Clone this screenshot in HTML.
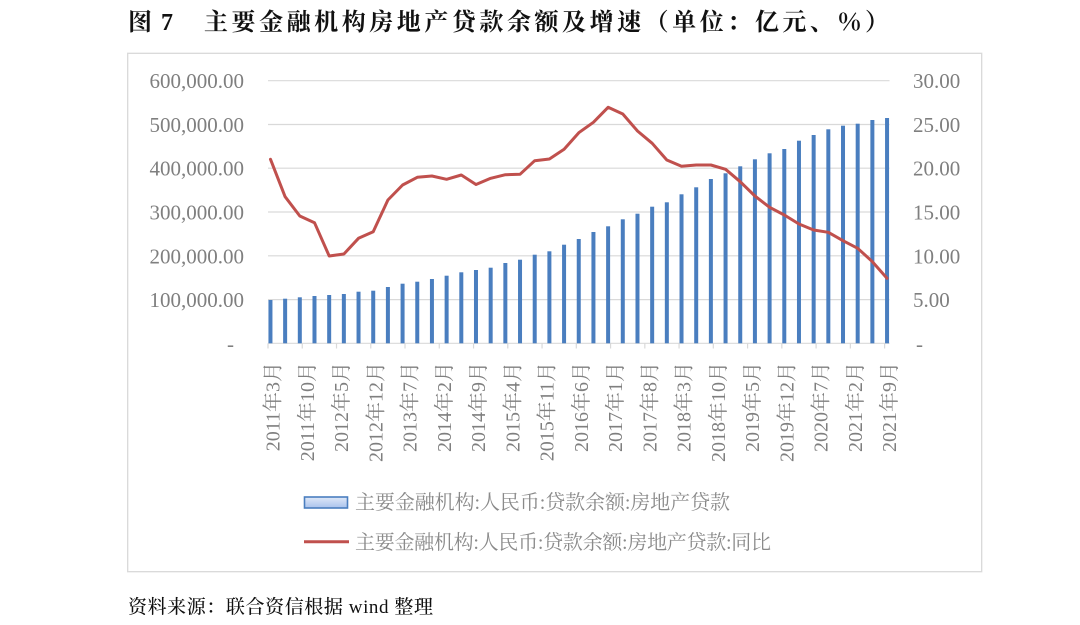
<!DOCTYPE html>
<html><head><meta charset="utf-8"><style>
html,body{margin:0;padding:0;background:#fff;}
svg{display:block;}
</style></head><body>
<svg width="1080" height="625" viewBox="0 0 1080 625" xmlns="http://www.w3.org/2000/svg" font-family="'Liberation Serif','Noto Serif CJK SC',serif">
<rect x="0" y="0" width="1080" height="625" fill="#fff"/>
<!-- Title -->
<text x="128" y="30" font-size="24" font-weight="bold" font-family="'Liberation Serif','Noto Serif CJK SC',serif" fill="#111">图</text>
<text x="161" y="30" font-size="24" font-weight="bold" fill="#111">7</text>
<text x="204" y="30" font-size="24" font-weight="bold" fill="#111" textLength="685" lengthAdjust="spacing">主要金融机构房地产贷款余额及增速（单位：亿元、％）</text>
<!-- Chart border -->
<rect x="127.7" y="53.3" width="854" height="518.4" fill="none" stroke="#d9d9d9" stroke-width="1.3"/>
<!-- gridlines -->
<g stroke="#d9d9d9" stroke-width="1.2">
<line x1="268" y1="80.7" x2="889.5" y2="80.7"/>
<line x1="268" y1="124.5" x2="889.5" y2="124.5"/>
<line x1="268" y1="168.2" x2="889.5" y2="168.2"/>
<line x1="268" y1="212" x2="889.5" y2="212"/>
<line x1="268" y1="255.8" x2="889.5" y2="255.8"/>
<line x1="268" y1="299.6" x2="889.5" y2="299.6"/>
<line x1="268" y1="343.3" x2="889.5" y2="343.3"/>
</g>
<!-- ticks -->
<g stroke="#d9d9d9" stroke-width="1.2">
<line x1="268" y1="343.3" x2="268" y2="348.5"/>
<line x1="302.26" y1="343.3" x2="302.26" y2="348.5"/>
<line x1="336.51" y1="343.3" x2="336.51" y2="348.5"/>
<line x1="370.77" y1="343.3" x2="370.77" y2="348.5"/>
<line x1="405.02" y1="343.3" x2="405.02" y2="348.5"/>
<line x1="439.28" y1="343.3" x2="439.28" y2="348.5"/>
<line x1="473.54" y1="343.3" x2="473.54" y2="348.5"/>
<line x1="507.79" y1="343.3" x2="507.79" y2="348.5"/>
<line x1="542.05" y1="343.3" x2="542.05" y2="348.5"/>
<line x1="576.30" y1="343.3" x2="576.30" y2="348.5"/>
<line x1="610.56" y1="343.3" x2="610.56" y2="348.5"/>
<line x1="644.82" y1="343.3" x2="644.82" y2="348.5"/>
<line x1="679.07" y1="343.3" x2="679.07" y2="348.5"/>
<line x1="713.33" y1="343.3" x2="713.33" y2="348.5"/>
<line x1="747.58" y1="343.3" x2="747.58" y2="348.5"/>
<line x1="781.84" y1="343.3" x2="781.84" y2="348.5"/>
<line x1="816.10" y1="343.3" x2="816.10" y2="348.5"/>
<line x1="850.35" y1="343.3" x2="850.35" y2="348.5"/>
<line x1="884.61" y1="343.3" x2="884.61" y2="348.5"/>
</g>
<!-- bars -->
<g fill="#4a7ebf">
<rect x="268.45" y="300" width="4" height="43.3"/>
<rect x="283.13" y="298.7" width="4" height="44.6"/>
<rect x="297.81" y="297.3" width="4" height="46"/>
<rect x="312.49" y="296" width="4" height="47.3"/>
<rect x="327.17" y="295" width="4" height="48.3"/>
<rect x="341.86" y="294" width="4" height="49.3"/>
<rect x="356.54" y="291.7" width="4" height="51.6"/>
<rect x="371.22" y="290.7" width="4" height="52.6"/>
<rect x="385.90" y="287" width="4" height="56.3"/>
<rect x="400.58" y="283.7" width="4" height="59.6"/>
<rect x="415.26" y="281.7" width="4" height="61.6"/>
<rect x="429.94" y="279" width="4" height="64.3"/>
<rect x="444.62" y="275.7" width="4" height="67.6"/>
<rect x="459.30" y="272.3" width="4" height="71"/>
<rect x="473.98" y="270" width="4" height="73.3"/>
<rect x="488.67" y="267.7" width="4" height="75.6"/>
<rect x="503.35" y="263" width="4" height="80.3"/>
<rect x="518.03" y="259.7" width="4" height="83.6"/>
<rect x="532.71" y="254.7" width="4" height="88.6"/>
<rect x="547.39" y="251.3" width="4" height="92"/>
<rect x="562.07" y="244.7" width="4" height="98.6"/>
<rect x="576.75" y="239" width="4" height="104.3"/>
<rect x="591.43" y="232" width="4" height="111.3"/>
<rect x="606.11" y="226.3" width="4" height="117"/>
<rect x="620.79" y="219.3" width="4" height="124"/>
<rect x="635.48" y="213.7" width="4" height="129.6"/>
<rect x="650.16" y="206.7" width="4" height="136.6"/>
<rect x="664.84" y="202.3" width="4" height="141"/>
<rect x="679.52" y="194.3" width="4" height="149"/>
<rect x="694.20" y="187.3" width="4" height="156"/>
<rect x="708.88" y="179" width="4" height="164.3"/>
<rect x="723.56" y="173.3" width="4" height="170"/>
<rect x="738.24" y="166.3" width="4" height="177"/>
<rect x="752.92" y="159.3" width="4" height="184"/>
<rect x="767.60" y="153.3" width="4" height="190"/>
<rect x="782.29" y="149" width="4" height="194.3"/>
<rect x="796.97" y="140.7" width="4" height="202.6"/>
<rect x="811.65" y="135" width="4" height="208.3"/>
<rect x="826.33" y="129.3" width="4" height="214"/>
<rect x="841.01" y="125.7" width="4" height="217.6"/>
<rect x="855.69" y="123.7" width="4" height="219.6"/>
<rect x="870.37" y="120" width="4" height="223.3"/>
<rect x="885.05" y="118" width="4" height="225.3"/>
</g>
<!-- line -->
<polyline fill="none" stroke="#c0504d" stroke-width="3" stroke-linejoin="round" stroke-linecap="round" points="270.5,159.3 285.1,196.7 299.8,216 314.5,222.7 329.2,256 343.9,254 358.5,238.3 373.2,231.7 387.9,200 402.6,185 417.3,177.3 431.9,176 446.6,179.3 461.3,175 476.0,184.5 490.7,178.3 505.4,174.7 520.0,174.3 534.7,160.7 549.4,159 564.1,149.3 578.8,132.7 593.4,122.3 608.1,107.3 622.8,114 637.5,131 652.2,143.3 666.8,160 681.5,166.3 696.2,165 710.9,165 725.6,169.3 740.2,181.7 754.9,196 769.6,207.3 784.3,215 799.0,224 813.6,230 828.3,232.3 843.0,240.7 857.7,248.3 872.4,261.7 887.0,278.3"/>
<!-- left axis labels -->
<g font-size="21" fill="#7f7f7f" text-anchor="end">
<text x="244" y="88.2">600,000.00</text>
<text x="244" y="132">500,000.00</text>
<text x="244" y="175.7">400,000.00</text>
<text x="244" y="219.5">300,000.00</text>
<text x="244" y="263.3">200,000.00</text>
<text x="244" y="307.1">100,000.00</text>
<text x="234" y="350.8">-</text>
</g>
<!-- right axis labels -->
<g font-size="21" fill="#7f7f7f">
<text x="913" y="88.2">30.00</text>
<text x="913" y="132">25.00</text>
<text x="913" y="175.7">20.00</text>
<text x="913" y="219.5">15.00</text>
<text x="913" y="263.3">10.00</text>
<text x="913" y="307.1">5.00</text>
<text x="916" y="350.8">-</text>
</g>
<!-- x labels -->
<g font-size="20" fill="#7f7f7f" text-anchor="end">
<text transform="translate(279.5,362) rotate(-90)">2011年3月</text>
<text transform="translate(313.76,362) rotate(-90)">2011年10月</text>
<text transform="translate(348.01,362) rotate(-90)">2012年5月</text>
<text transform="translate(382.27,362) rotate(-90)">2012年12月</text>
<text transform="translate(416.52,362) rotate(-90)">2013年7月</text>
<text transform="translate(450.78,362) rotate(-90)">2014年2月</text>
<text transform="translate(485.04,362) rotate(-90)">2014年9月</text>
<text transform="translate(519.29,362) rotate(-90)">2015年4月</text>
<text transform="translate(553.55,362) rotate(-90)">2015年11月</text>
<text transform="translate(587.80,362) rotate(-90)">2016年6月</text>
<text transform="translate(622.06,362) rotate(-90)">2017年1月</text>
<text transform="translate(656.32,362) rotate(-90)">2017年8月</text>
<text transform="translate(690.57,362) rotate(-90)">2018年3月</text>
<text transform="translate(724.83,362) rotate(-90)">2018年10月</text>
<text transform="translate(759.08,362) rotate(-90)">2019年5月</text>
<text transform="translate(793.34,362) rotate(-90)">2019年12月</text>
<text transform="translate(827.60,362) rotate(-90)">2020年7月</text>
<text transform="translate(861.85,362) rotate(-90)">2021年2月</text>
<text transform="translate(896.11,362) rotate(-90)">2021年9月</text>
</g>
<!-- legend -->
<defs>
<linearGradient id="lg" x1="0" y1="0" x2="0" y2="1">
<stop offset="0" stop-color="#dfe8f8"/>
<stop offset="1" stop-color="#a9c2ec"/>
</linearGradient>
</defs>
<rect x="304.5" y="497" width="43" height="11" fill="url(#lg)" stroke="#4a7ebf" stroke-width="1.6"/>
<text x="355" y="509" font-size="20" fill="#8a8a8a" textLength="375" lengthAdjust="spacing">主要金融机构:人民币:贷款余额:房地产贷款</text>
<line x1="304" y1="541.7" x2="349" y2="541.7" stroke="#c0504d" stroke-width="3"/>
<text x="355" y="549" font-size="20" fill="#8a8a8a" textLength="416" lengthAdjust="spacing">主要金融机构:人民币:贷款余额:房地产贷款:同比</text>
<!-- source -->
<text x="128" y="613" font-size="19" font-weight="500" fill="#111" textLength="305" lengthAdjust="spacing">资料来源：联合资信根据 wind 整理</text>
</svg>
</body></html>
